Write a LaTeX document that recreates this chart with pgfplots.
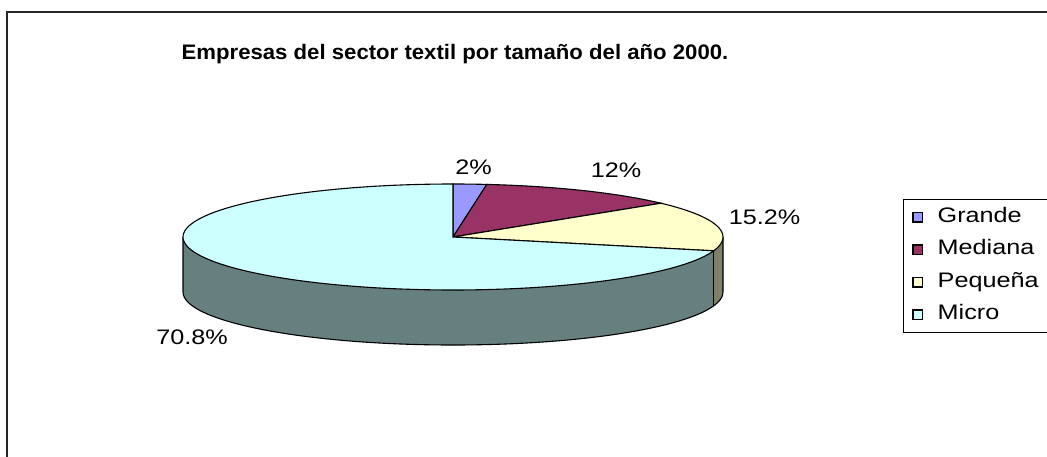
\documentclass[border=0pt]{standalone}
\usepackage{fontspec}
\setmainfont{Liberation Sans}
\newfontfamily\labfont[FakeStretch=1.2]{Liberation Sans}
\newfontfamily\titfont[FakeStretch=1.055]{Liberation Sans}
\usepackage{pgfplots}
\pgfplotsset{compat=1.18}
\usepackage{pgfplotstable}

\definecolor{cGrande}{HTML}{9999FF}
\definecolor{cMediana}{HTML}{993366}
\definecolor{cPequena}{HTML}{FFFFCC}
\definecolor{cMicro}{HTML}{CCFFFF}
\definecolor{sMicro}{HTML}{668080}
\definecolor{sPequena}{HTML}{808066}

\pgfplotstableread{
idx value
0 2
1 12
2 15.2
3 70.8
}\piedata

\begin{document}
\begin{tikzpicture}
\pgfplotstablegetelem{0}{value}\of\piedata \let\vA\pgfplotsretval
\pgfplotstablegetelem{1}{value}\of\piedata \let\vB\pgfplotsretval
\pgfplotstablegetelem{2}{value}\of\piedata \let\vC\pgfplotsretval
\pgfplotstablegetelem{3}{value}\of\piedata \let\vD\pgfplotsretval
\pgfmathsetmacro\tA{0}
\pgfmathsetmacro\tB{\tA+3.6*\vA}
\pgfmathsetmacro\tC{\tB+3.6*\vB}
\pgfmathsetmacro\tD{\tC+3.6*\vC}
\pgfmathsetmacro\tE{\tD+3.6*\vD}
% pie geometry (pixel units, y up)
\def\cx{453}\def\cy{219}\def\rx{270}\def\ry{53}\def\dep{55}
\pgfmathsetmacro\cyb{\cy-\dep}
\pgfmathsetmacro\xR{\cx+\rx}
\pgfmathsetmacro\xL{\cx-\rx}
\pgfmathsetmacro\xD{\cx+\rx*sin(\tD)}
\pgfmathsetmacro\yD{\cy+\ry*cos(\tD)}
\pgfmathsetmacro\yDb{\yD-\dep}
\pgfmathsetmacro\phD{90-\tD}
\useasboundingbox (0,0) rectangle (1047pt,456pt);
\begin{axis}[
  at={(0,0)}, anchor=south west,
  scale only axis, width=1047pt, height=456pt,
  xmin=0, xmax=1047, ymin=0, ymax=456,
  hide axis, clip=false,
  legend image code/.code={\draw[#1,draw=black,line width=1.3pt] (0pt,-4.75pt) rectangle (9.5pt,4.75pt);},
  legend cell align=left,
  legend style={at={(axis cs:902.5,257)}, anchor=north west, draw=black, line width=0.8pt,
    fill=white, inner xsep=9.5pt, inner ysep=8pt,
    font=\fontsize{21}{24}\labfont, row sep=13pt,
    /tikz/every odd column/.append style={column sep=14.5pt},
    nodes={inner sep=0pt, text height=15pt, text depth=4.5pt}},
]
% frame
\draw[line width=1.6pt, black!85] (axis cs:7,-20) -- (axis cs:7,444) -- (axis cs:1080,444);
% side faces
\fill[sMicro] (axis cs:\xR,\cy) arc[start angle=0, end angle=-180, x radius=\rx, y radius=\ry]
   -- (axis cs:\xL,\cyb) arc[start angle=-180, end angle=0, x radius=\rx, y radius=\ry] -- cycle;
\fill[sPequena] (axis cs:\xR,\cy) arc[start angle=0, end angle=\phD, x radius=\rx, y radius=\ry]
   -- (axis cs:\xD,\yDb) arc[start angle=\phD, end angle=0, x radius=\rx, y radius=\ry] -- cycle;
\draw[black, line width=1.1pt] (axis cs:\xR,\cy) -- (axis cs:\xR,\cyb)
   arc[start angle=0, end angle=-180, x radius=\rx, y radius=\ry] -- (axis cs:\xL,\cy);
\draw[black, line width=1.1pt] (axis cs:\xD,\yD) -- (axis cs:\xD,\yDb);
% top faces
\addplot[fill=cGrande, draw=black, line width=1.1pt, domain=\tA:\tB, samples=10, variable=\t]
  ({\cx+\rx*sin(\t)}, {\cy+\ry*cos(\t)}) -- (axis cs:\cx,\cy) -- cycle;
\addlegendentry{Grande}
\addplot[fill=cMediana, draw=black, line width=1.1pt, domain=\tB:\tC, samples=30, variable=\t]
  ({\cx+\rx*sin(\t)}, {\cy+\ry*cos(\t)}) -- (axis cs:\cx,\cy) -- cycle;
\addlegendentry{Mediana}
\addplot[fill=cPequena, draw=black, line width=1.1pt, domain=\tC:\tD, samples=30, variable=\t]
  ({\cx+\rx*sin(\t)}, {\cy+\ry*cos(\t)}) -- (axis cs:\cx,\cy) -- cycle;
\addlegendentry{Pequeña}
\addplot[fill=cMicro, draw=black, line width=1.1pt, domain=\tD:\tE, samples=120, variable=\t]
  ({\cx+\rx*sin(\t)}, {\cy+\ry*cos(\t)}) -- (axis cs:\cx,\cy) -- cycle;
\addlegendentry{Micro}
% labels
\node[font=\fontsize{21}{24}\labfont] at (axis cs:473.5,288.5) {2\%};
\node[font=\fontsize{21}{24}\labfont] at (axis cs:616,286) {12\%};
\node[font=\fontsize{21}{24}\labfont] at (axis cs:764.5,238.5) {15.2\%};
\node[font=\fontsize{21}{24}\labfont] at (axis cs:192,118.5) {70.8\%};
% title
\node[font=\fontsize{21}{25}\titfont\bfseries] at (axis cs:455,402) {Empresas del sector textil por tamaño del año 2000.};
\end{axis}
\end{tikzpicture}
\end{document}
